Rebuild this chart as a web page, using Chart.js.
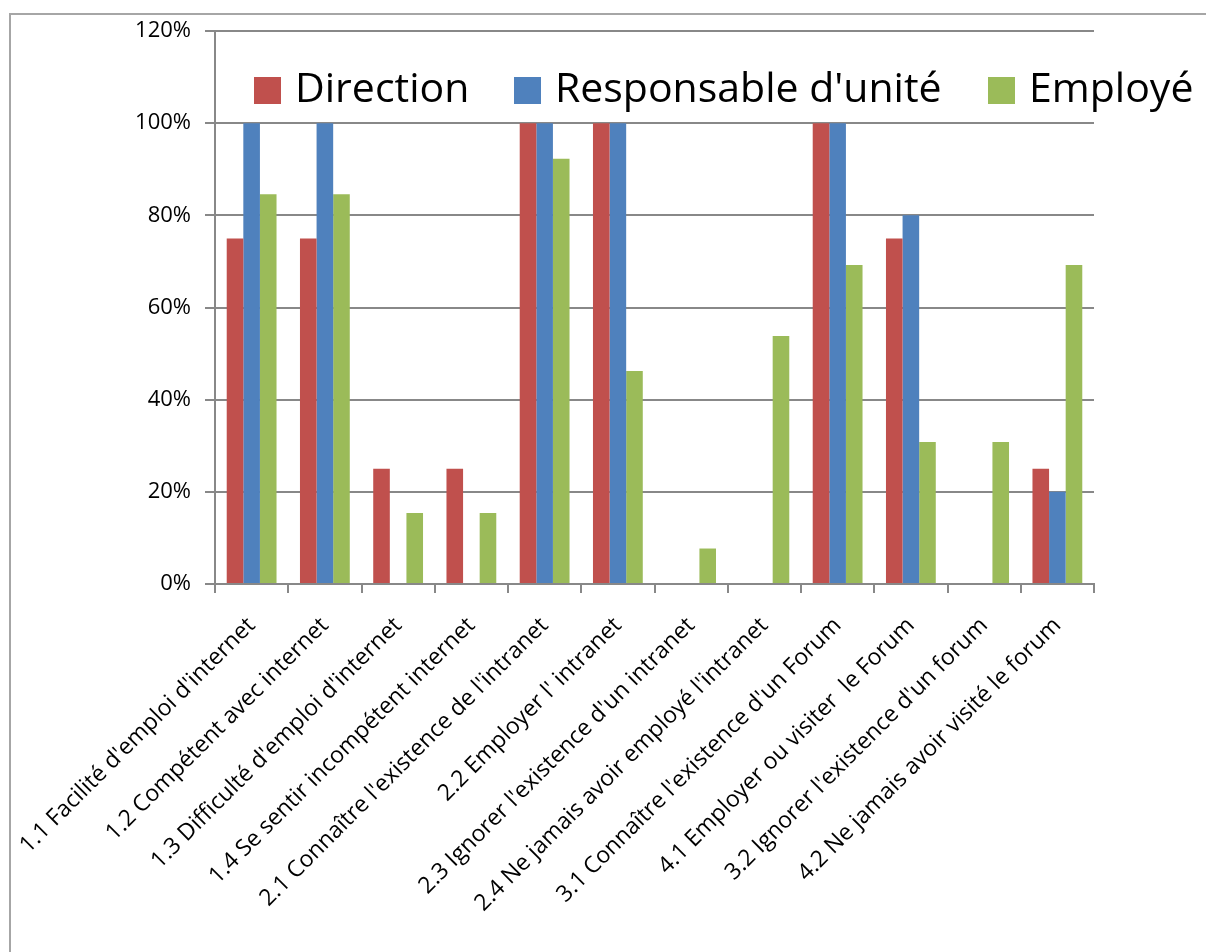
<!DOCTYPE html>
<html>
<head>
<meta charset="utf-8">
<script src="https://cdn.jsdelivr.net/npm/chart.js@4.4.1/dist/chart.umd.min.js"></script>
<style>
  body { margin: 0; background: #fff; }
  canvas { display: block; }
</style>
</head>
<body>
<canvas id="barChart" width="1206" height="952"></canvas>
<script>
// Data (percentages)
const categories = [
    "1.1 Facilité d'emploi d'internet",
    "1.2 Compétent avec internet",
    "1.3 Difficulté d'emploi d'internet",
    "1.4 Se sentir incompétent internet",
    "2.1 Connaître l'existence de l'intranet",
    "2.2 Employer l' intranet",
    "2.3 Ignorer l'existence d'un intranet",
    "2.4 Ne jamais avoir employé l'intranet",
    "3.1 Connaître l'existence d'un Forum",
    "4.1 Employer ou visiter  le Forum",
    "3.2 Ignorer l'existence d'un forum",
    "4.2 Ne jamais avoir visité le forum"
];
const direction   = [75, 75, 25, 25, 100, 100, 0, 0, 100, 75, 0, 25];
const responsable = [100, 100, 0, 0, 100, 100, 0, 0, 100, 80, 0, 20];
const employe     = [84.6, 84.6, 15.4, 15.4, 92.3, 46.2, 7.7, 53.8, 69.2, 30.8, 30.8, 69.2];
const seriesNames = ['Direction', "Responsable d'unité", 'Employé'];
const yTicks = [0, 20, 40, 60, 80, 100, 120];

const colors = ['#C0504D', '#4F81BD', '#9BBB59'];
const gridColor = '#888888';

// frame (only top and left edges visible)
const framePlugin = {
    id: 'frame',
    beforeDraw(chart) {
        const c = chart.ctx;
        c.save();
        c.strokeStyle = '#a6a6a6';
        c.lineWidth = 2;
        c.beginPath();
        c.moveTo(10, 952);
        c.lineTo(10, 14);
        c.lineTo(1206, 14);
        c.stroke();
        c.restore();
    }
};

// big legend sitting inside the plot, over the top gridlines
const legendPlugin = {
    id: 'bigLegend',
    afterDraw(chart) {
        const c = chart.ctx;
        const boxX = [254, 514, 988];
        c.save();
        c.font = '41px "Open Sans"';
        c.textBaseline = 'middle';
        chart.data.datasets.forEach((ds, i) => {
            c.fillStyle = ds.backgroundColor;
            c.fillRect(boxX[i], 77, 27, 27);
            c.fillStyle = '#000';
            c.fillText(ds.label, boxX[i] + 41, 90);
        });
        c.restore();
    }
};

new Chart(document.getElementById('barChart'), {
    type: 'bar',
    data: {
        labels: categories,
        datasets: [
            { label: seriesNames[0], data: direction, backgroundColor: colors[0] },
            { label: seriesNames[1], data: responsable, backgroundColor: colors[1] },
            { label: seriesNames[2], data: employe, backgroundColor: colors[2] }
        ]
    },
    options: {
        responsive: false,
        animation: false,
        devicePixelRatio: 1,
        layout: { padding: { left: 0, top: 31, right: 112, bottom: 0 } },
        datasets: { bar: { categoryPercentage: 0.68, barPercentage: 1.0 } },
        plugins: {
            legend: { display: false },
            tooltip: { enabled: false }
        },
        scales: {
            x: {
                afterFit: s => {
                    s.height = 952 - 584;
                    s.paddingLeft = 0;
                    s.paddingRight = 0;
                },
                grid: {
                    offset: true,
                    drawOnChartArea: false,
                    color: gridColor,
                    lineWidth: 2,
                    tickLength: 9
                },
                border: { color: gridColor, width: 2 },
                ticks: {
                    color: '#000',
                    font: { family: 'Open Sans', size: 23 },
                    minRotation: 45,
                    maxRotation: 45,
                    autoSkip: false,
                    padding: 19
                }
            },
            y: {
                min: 0,
                max: 120,
                afterFit: s => {
                    s.width = 215;
                    s.paddingTop = 0;
                    s.paddingBottom = 0;
                },
                afterBuildTicks: s => { s.ticks = yTicks.map(v => ({ value: v })); },
                grid: {
                    color: gridColor,
                    lineWidth: 2,
                    tickLength: 10
                },
                border: { color: gridColor, width: 2 },
                ticks: {
                    color: '#000',
                    font: { family: 'Open Sans', size: 22 },
                    padding: 14,
                    callback: v => v + '%'
                }
            }
        }
    },
    plugins: [framePlugin, legendPlugin]
});
</script>
</body>
</html>
